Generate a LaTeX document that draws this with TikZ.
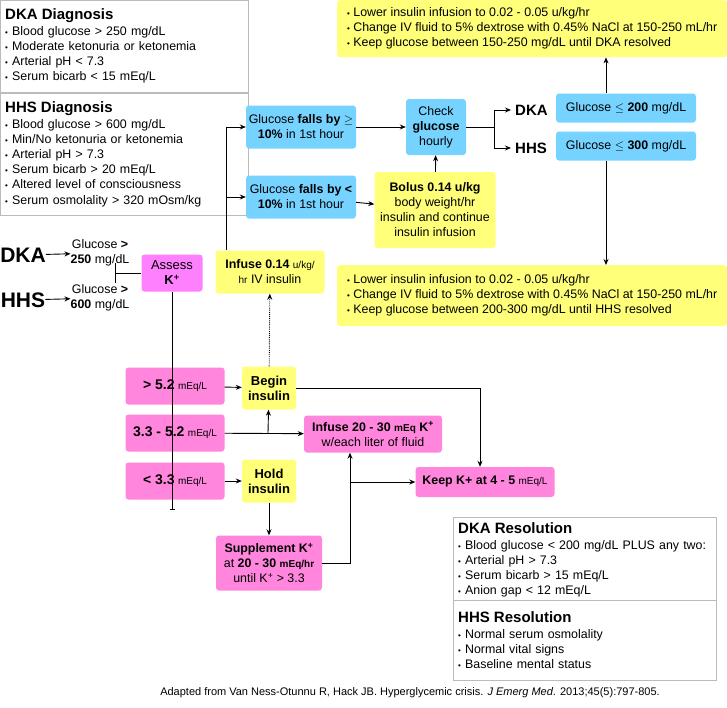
\documentclass[tikz,border=0pt]{standalone}
\usepackage{fontspec}
\setmainfont{Liberation Sans}
\usepackage{amssymb}
\usetikzlibrary{arrows.meta, positioning, calc}
\definecolor{dkblue}{HTML}{76D3FF}
\definecolor{dkyellow}{HTML}{FFFF7A}
\definecolor{dkpink}{HTML}{FF85DD}
\definecolor{dkmagenta}{HTML}{FF80FF}
\definecolor{dkgray}{HTML}{BBBBBB}
\newcommand{\sm}[1]{{\fontsize{10}{11}\selectfont #1}}
\newcommand{\bul}{{\fontsize{8}{10}\selectfont\textbullet}\ }

\begin{document}
\begin{tikzpicture}[x=1pt, y=-1pt,
    every node/.style={font=\fontsize{12.4}{15}\selectfont, inner sep=0pt},
    step/.style={rounded corners=3pt, fill=#1, align=center},
    infobox/.style={draw=dkgray, fill=white, align=left, anchor=north west, inner sep=5pt},
    arrow/.style={-{Stealth[length=6pt, width=5pt]}, line width=0.9pt},
    link/.style={line width=0.9pt}
]
\useasboundingbox (0,0) rectangle (727,707);

% Diagnosis boxes
\node[infobox, minimum width=248, text width=238, minimum height=92] (dkadx) at (0,0)
  {{\fontsize{15}{17}\selectfont\bfseries DKA Diagnosis}\\[1pt]
   \bul Blood glucose > 250 mg/dL\\ \bul Moderate ketonuria or ketonemia\\
   \bul Arterial pH < 7.3\\ \bul Serum bicarb < 15 mEq/L};
\node[infobox, minimum width=248, text width=238, minimum height=122] (hhsdx) at (0,93)
  {{\fontsize{15}{17}\selectfont\bfseries HHS Diagnosis}\\[1pt]
   \bul Blood glucose > 600 mg/dL\\ \bul Min/No ketonuria or ketonemia\\
   \bul Arterial pH > 7.3\\ \bul Serum bicarb > 20 mEq/L\\
   \bul Altered level of consciousness\\[1pt] \bul Serum osmolality > 320 mOsm/kg};

% Entry
\node[font=\fontsize{21}{23}\selectfont\bfseries] (dka) at (23,255) {DKA};
\node[font=\fontsize{21}{23}\selectfont\bfseries] (hhs) at (23,300) {HHS};
\node[align=center] (g250) at (100,253) {Glucose \textbf{>}\\\textbf{250} mg/dL};
\node[align=center] (g600) at (100,298) {Glucose \textbf{>}\\\textbf{600} mg/dL};
\node[step=dkmagenta, minimum width=61, minimum height=37, font=\fontsize{13}{15}\selectfont] (assess) at (172,273) {Assess\\\textbf{K\textsuperscript{+}}};
\node[step=dkyellow, minimum width=109, minimum height=43] (infuse) at (270,272)
  {\textbf{Infuse 0.14} \sm{u/kg/}\\\sm{hr} IV insulin};
\draw[arrow] (dka) -- (g250);
\draw[arrow] (hhs) -- (g600);
\coordinate (join) at (115,273);
\draw[link] (115,263) -- (115,283);
\draw[link] (join) -- (assess);

% Glucose response
\node[step=dkblue, minimum width=110, minimum height=43] (fast) at (301,127) {Glucose \textbf{falls by $\geq$}\\\textbf{10\%} in 1st hour};
\node[step=dkblue, minimum width=110, minimum height=43] (slow) at (301,197) {Glucose \textbf{falls by <}\\\textbf{10\%} in 1st hour};
\node[step=dkblue, minimum width=60, minimum height=56] (check) at (436,127) {Check\\\textbf{glucose}\\hourly};
\node[step=dkyellow, minimum width=121, minimum height=76] (bolus) at (435,210)
  {\textbf{Bolus 0.14 u/kg}\\body weight/hr\\insulin and continue\\insulin infusion};
\node[font=\fontsize{15}{17}\selectfont\bfseries, anchor=west] (dkalbl) at (515,110) {DKA};
\node[font=\fontsize{15}{17}\selectfont\bfseries, anchor=west] (hhslbl) at (515,148) {HHS};
\node[step=dkblue, minimum width=140, minimum height=29] (g200) at (626,108) {Glucose \textbf{$\leq$ 200} mg/dL};
\node[step=dkblue, minimum width=140, minimum height=29] (g300) at (626,146) {Glucose \textbf{$\leq$ 300} mg/dL};
\node[step=dkyellow, minimum width=390, minimum height=57, align=left, anchor=north west, inner xsep=6pt] (dkanext) at (337,0)
  {\bul Lower insulin infusion to 0.02 - 0.05 u/kg/hr\\
   \bul Change IV fluid to 5\% dextrose with 0.45\% NaCl at 150-250 mL/hr\\
   \bul Keep glucose between 150-250 mg/dL until DKA resolved};
\node[step=dkyellow, minimum width=390, minimum height=61, align=left, anchor=north west, inner xsep=6pt] (hhsnext) at (337,265)
  {\bul Lower insulin infusion to 0.02 - 0.05 u/kg/hr\\
   \bul Change IV fluid to 5\% dextrose with 0.45\% NaCl at 150-250 mL/hr\\
   \bul Keep glucose between 200-300 mg/dL until HHS resolved};
\coordinate (split) at (226,127);
\draw[link] (infuse.north -| split) -- (split);
\draw[arrow] (split) -- (fast);
\draw[arrow] (226,197) -- (slow);
\draw[arrow] (fast) -- (check);
\draw[arrow] (slow) -- (bolus);
\draw[arrow] (bolus) -- (check);
\draw[link] (check.east) -- (494,127) coordinate (fork);
\draw[arrow] (fork) |- ([xshift=-4pt]dkalbl.west);
\draw[arrow] (fork) |- ([xshift=-4pt]hhslbl.west);
\draw[arrow] (g200.north -| 606,0) -- (dkanext.south -| 606,0);
\draw[arrow] (g300.south -| 606,0) -- (hhsnext.north -| 606,0);

% Potassium
\node[step=dkpink, minimum width=99, minimum height=37] (high) at (175,386) {\textbf{\fontsize{14}{16}\selectfont > 5.2} \sm{mEq/L}};
\node[step=dkpink, minimum width=99, minimum height=37] (mid) at (175,433) {\textbf{\fontsize{14}{16}\selectfont 3.3 - 5.2} \sm{mEq/L}};
\node[step=dkpink, minimum width=99, minimum height=37] (low) at (175,481) {\textbf{\fontsize{14}{16}\selectfont < 3.3} \sm{mEq/L}};
\node[step=dkyellow, minimum width=54, minimum height=43, font=\fontsize{13}{15}\selectfont\bfseries] (begin) at (269,388) {Begin\\insulin};
\node[step=dkyellow, minimum width=54, minimum height=43, font=\fontsize{13}{15}\selectfont\bfseries] (hold) at (269,481) {Hold\\insulin};
\node[step=dkpink, minimum width=138, minimum height=37] (kinf) at (373,434) {\textbf{Infuse 20 - 30} \sm{\textbf{mEq}} \textbf{K\textsuperscript{+}}\\w/each liter of fluid};
\node[step=dkpink, minimum width=139, minimum height=30] (keep) at (485,482) {\textbf{Keep K+ at 4 - 5} \sm{mEq/L}};
\node[step=dkpink, minimum width=106, minimum height=55] (supp) at (269,563) {\textbf{Supplement K\textsuperscript{+}}\\at \textbf{20 - 30} \sm{\textbf{mEq/hr}}\\until K\textsuperscript{+} > 3.3};
\draw[link, {Bar[width=5pt]}-] (172,510) -- (assess.south);
\draw[arrow] (high) -- (begin);
\draw[arrow] (low) -- (hold);
\draw[arrow] (mid) -- (kinf);
\draw[arrow] (268,433) -- (begin);
\draw[arrow, densely dotted] (begin) -- (infuse);
\draw[arrow] (hold) -- (supp);
\draw[arrow] (begin.east) -| (keep.north -| 480,0);
\draw[arrow] (supp.east) -| (kinf.south -| 350,0);
\draw[arrow] (350,482) -- (keep);

% Resolution
\node[infobox, minimum width=263, text width=253, minimum height=83] (dkares) at (453,517)
  {{\fontsize{15}{17}\selectfont\bfseries DKA Resolution}\\[1pt]
   \bul Blood glucose < 200 mg/dL PLUS any two:\\ \bul Arterial pH > 7.3\\
   \bul Serum bicarb > 15 mEq/L\\ \bul Anion gap < 12 mEq/L};
\node[infobox, minimum width=263, text width=253, minimum height=80] (hhsres) at (453,600)
  {{\fontsize{15}{17}\selectfont\bfseries HHS Resolution}\\[1pt]
   \bul Normal serum osmolality\\ \bul Normal vital signs\\ \bul Baseline mental status};
\node[font=\fontsize{11}{13}\selectfont] (src) at (410,693) {Adapted from Van Ness-Otunnu R, Hack JB. Hyperglycemic crisis. \textit{J Emerg Med}. 2013;45(5):797-805.};
\end{tikzpicture}
\end{document}
